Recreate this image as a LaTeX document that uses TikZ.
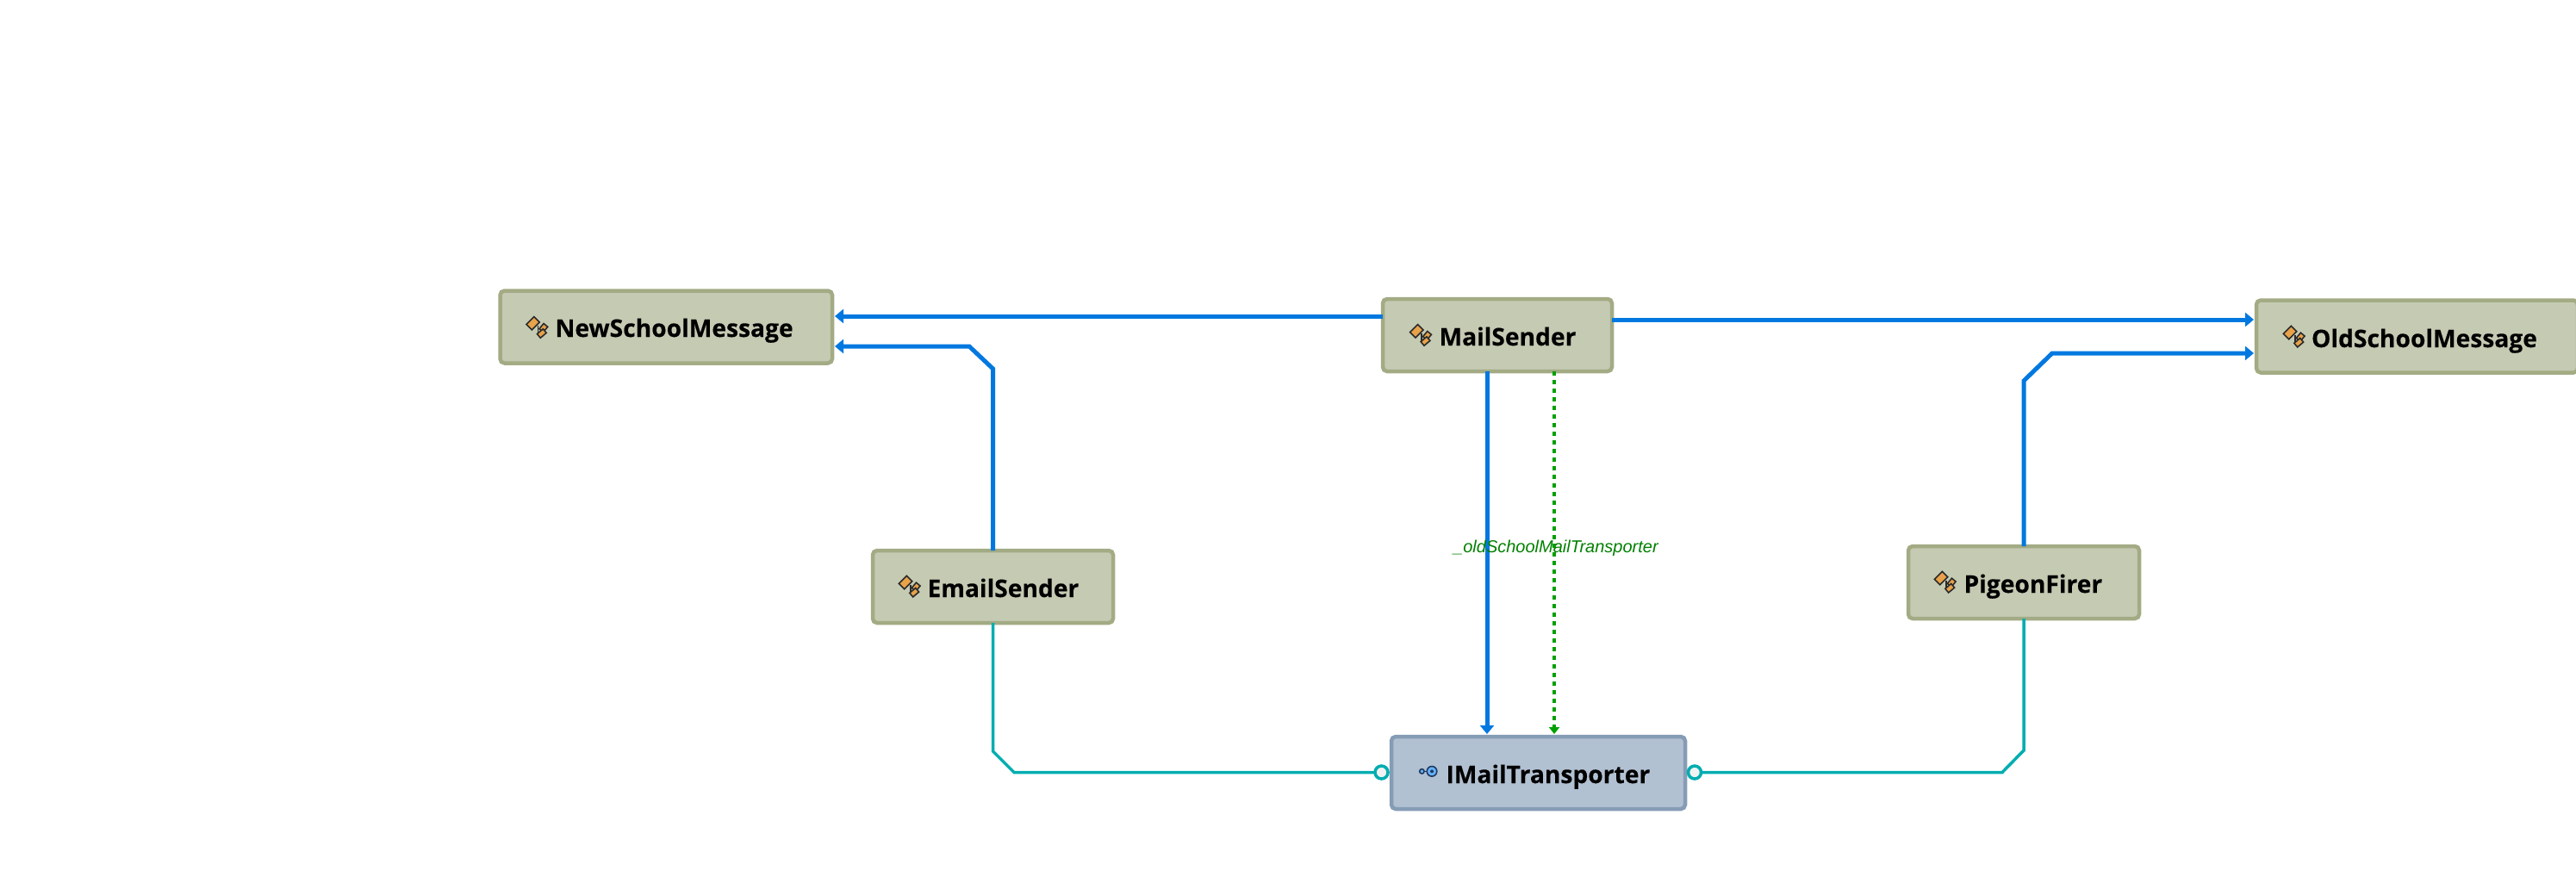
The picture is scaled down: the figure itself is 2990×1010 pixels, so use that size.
\documentclass[tikz,border=0pt]{standalone}
\usepackage{fontspec}
\setmainfont{Open Sans}[BoldFeatures={FakeBold=0.3}]
\newfontfamily\labelfont{Liberation Sans}
\usetikzlibrary{arrows.meta}
\definecolor{classfill}{HTML}{C5CAB3}
\definecolor{classline}{HTML}{A3AB84}
\definecolor{ifacefill}{HTML}{B2C1D2}
\definecolor{ifaceline}{HTML}{859CB5}
\definecolor{depblue}{HTML}{0078E0}
\definecolor{fieldgreen}{HTML}{00A000}
\definecolor{labelgreen}{HTML}{008000}
\definecolor{implteal}{HTML}{00ADB0}
\definecolor{lolly}{HTML}{F2F2F2}
\definecolor{iconorange}{HTML}{E8A24A}
\definecolor{iconink}{HTML}{2B2B2B}
\definecolor{iconblue}{HTML}{66B2FF}
\definecolor{iconnavy}{HTML}{1F3A5F}
\tikzset{
  x=1pt,y=-1pt,
  basebox/.style={rectangle,rounded corners=5pt,line width=4.5pt,inner sep=0pt,outer sep=0pt},
  classbox/.style={basebox,draw=classline,fill=classfill},
  ifacebox/.style={basebox,draw=ifaceline,fill=ifacefill},
  boxtext/.style={anchor=base west,inner sep=0pt,outer sep=0pt,font=\fontsize{28.2}{32}\selectfont\bfseries,text=black},
  uses/.style={draw=depblue,line width=5pt,-{Triangle[length=10pt,width=16pt]},shorten >=3pt},
  field/.style={draw=fieldgreen,line width=4pt,dash pattern=on 5pt off 5pt,-{Triangle[length=8pt,width=12pt]},shorten >=3pt},
  impl/.style={draw=implteal,line width=3.5pt},
  lollipop/.style={circle,draw=implteal,fill=lolly,line width=3.5pt,minimum size=15pt,inner sep=0pt,outer sep=0pt},
  edgetext/.style={anchor=base west,inner sep=0pt,font=\labelfont\itshape\fontsize{20}{24}\selectfont,text=labelgreen},
  classicon/.pic={
    \begin{scope}[draw=iconink,fill=iconorange,line width=1.6pt]
      \draw[fill=none] (20,17) -- (20,25) -- (24,25);
      \filldraw[rotate around={45:(14.3,14.3)}] (8,9.8) rectangle (20.6,18.8);
      \filldraw[rotate around={50:(26.5,19.5)}] (22.5,16.5) rectangle (30.5,22.5);
      \filldraw[rotate around={40:(24.5,26)}] (20,23) rectangle (29,29);
    \end{scope}
  },
  ifaceicon/.pic={
    \draw[draw=iconnavy,line width=1.6pt] (12.7,15.3) -- (16.5,15.3);
    \draw[draw=iconnavy,fill=iconblue,line width=1.6pt] (10.4,15.3) circle (2.7);
    \draw[draw=iconnavy,fill=iconblue,line width=1.6pt] (22,15.3) circle (5.8);
    \fill[iconnavy] (22,15.3) circle (2);
  }
}
\begin{document}
\begin{tikzpicture}
\useasboundingbox (0,0) rectangle (2990,1010);
\clip (0,0) rectangle (2990,1010);

% boxes
\node[classbox,minimum width=385.5pt,minimum height=84pt] (new) at (773.25,379.5) {};
\node[classbox,minimum width=266pt,minimum height=84pt] (mail) at (1738,389) {};
\node[classbox,minimum width=373pt,minimum height=84pt] (old) at (2805.5,390.5) {};
\node[classbox,minimum width=279pt,minimum height=84pt] (email) at (1152.5,681) {};
\node[classbox,minimum width=268pt,minimum height=84pt] (pigeon) at (2349,676) {};
\node[ifacebox,minimum width=341pt,minimum height=84pt] (iface) at (1785.5,897) {};

% lollipops
\node[lollipop] (lolL) at (1603.5,896.5) {};
\node[lollipop] (lolR) at (1967,896.5) {};

% uses connectors
\draw[uses] (mail.west |- 0,367) -- (new.east |- 0,367);
\draw[uses] (email.north) -- (email.north |- 0,428) -- (1125,402) -- (new.east |- 0,402);
\draw[uses] (mail.east |- 0,371) -- (old.west |- 0,371);
\draw[uses] (pigeon.north) -- (pigeon.north |- 0,442) -- (2382,410) -- (old.west |- 0,410);
\draw[uses] (1726,0 |- mail.south) -- (1726,0 |- iface.north);
\draw[field] (1804,0 |- mail.south) -- (1804,0 |- iface.north);

% implementation connectors
\draw[impl] (email.south) -- (email.south |- 0,872) -- (1177,896.5) -- (lolL.west);
\draw[impl] (pigeon.south) -- (pigeon.south |- 0,871) -- (2324,896.5) -- (lolR.east);

% connector label
\node[edgetext] (fieldlabel) at (1687,641.5) {\_oldSchoolMailTransporter};

% icons
\pic at (604.3,361) {classicon};
\pic at (1630,370) {classicon};
\pic at (2643.7,371.7) {classicon};
\pic at (1036.7,661.7) {classicon};
\pic at (2238.7,656.7) {classicon};
\pic at (1640,880) {ifaceicon};

% box captions
\node[boxtext] (newT) at (644.5,391) {NewSchoolMessage};
\node[boxtext] (mailT) at (1670.5,401) {MailSender};
\node[boxtext] (oldT) at (2683,403) {OldSchoolMessage};
\node[boxtext] (emailT) at (1076.5,693) {EmailSender};
\node[boxtext] (pigeonT) at (2279.5,688) {PigeonFirer};
\node[boxtext] (ifaceT) at (1678.5,909) {IMailTransporter};
\end{tikzpicture}
\end{document}
